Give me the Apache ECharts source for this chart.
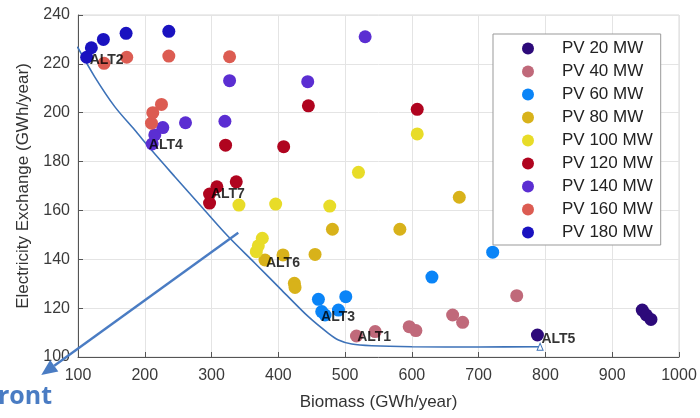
<!DOCTYPE html>
<html>
<head>
<meta charset="utf-8">
<script src="https://cdn.jsdelivr.net/npm/echarts@6/dist/echarts.min.js"></script>
<style>html,body{margin:0;padding:0;background:#fff}#c{width:700px;height:418px}</style>
</head>
<body>
<div id="c"></div>
<script>
// ---- data ----
const seriesNames = ['PV 20 MW','PV 40 MW','PV 60 MW','PV 80 MW','PV 100 MW','PV 120 MW','PV 140 MW','PV 160 MW','PV 180 MW'];
const seriesColors = ['#2d0a7a','#c0697a','#0a84f7','#d8b21a','#e8dc28','#b0041f','#5b2ed2','#dc5c52','#1a12c0'];
const pv20  = [[788,109],[945,119.2],[951,117.2],[958,115.4]];
const pv40  = [[517,108.6],[545,110.4],[596,112.4],[606,110.8],[661,117.2],[676,114.2],[757,125.1]];
const pv60  = [[460,123.6],[465,118.6],[470,117.2],[490,119.2],[501,124.7],[630,132.7],[721,142.9]];
const pv80  = [[380,139.7],[407,141.8],[424,130.2],[425,128.5],[455,142],[481,152.3],[582,152.3],[671,165.4]];
const pv100 = [[341,162.2],[367,143.1],[370,145.5],[376,148.6],[396,162.6],[477,161.8],[520,175.6],[608,191.3]];
const pv120 = [[297,163],[297,166.7],[308,169.7],[337,171.7],[321,186.7],[408,186.1],[445,202.8],[608,201.4]];
const pv140 = [[211,187.2],[215,190.9],[227,193.9],[261,195.9],[320,196.5],[327,213.1],[444,212.7],[530,231.1]];
const pv160 = [[139,220.2],[173,222.7],[236,223.2],[327,222.9],[210,195.7],[212,200],[225,203.4]];
const pv180 = [[113,222.7],[120,226.6],[138,230],[172,232.5],[236,233.3]];
const allSeries = [pv20,pv40,pv60,pv80,pv100,pv120,pv140,pv160,pv180];

const altNames = ['ALT1','ALT2','ALT3','ALT4','ALT5','ALT6','ALT7'];
const altPos = [[518,108.2],[117.5,221.6],[464,116.4],[206,186.8],[794,107.4],[381.5,138.5],[299,166.7]];

const paretoX = [99,125,155,185,210,245,285,325,365,405,445,475,490,510,540,600,700,792];
const paretoY = [227,214.7,202.5,192.9,184.7,173.8,161.5,149.3,138.4,127.4,116.5,109.7,107,105.3,104.6,104.2,104.1,104.2];

const arrowFrom = [340,150.9];
const arrowTo = [45,92.6];

const xTicks = {min:100, max:1000, interval:100};
const yTicks = {min:100, max:240, interval:20};

// ---- chart ----
const chart = echarts.init(document.getElementById('c'), null, {renderer:'canvas'});
const FONT = '"Liberation Sans", Arial, Helvetica, sans-serif';

const series = allSeries.map((d,i) => ({
  name: seriesNames[i],
  type: 'scatter',
  data: d,
  symbol: 'circle',
  symbolSize: 13,
  itemStyle: {color: seriesColors[i], opacity: 1},
  z: 3 + i*0.01
}));

const paretoData = paretoX.map((x,i) => {
  if (i === paretoX.length - 1) {
    return {value:[x, paretoY[i]], symbol:'triangle', symbolSize:[6,7],
            itemStyle:{color:'#fff', borderColor:'#3d72b8', borderWidth:1}};
  }
  return [x, paretoY[i]];
});

series.push({
  name: 'Pareto',
  type: 'line',
  data: paretoData,
  smooth: 0.3,
  symbol: 'none',
  showSymbol: true,
  lineStyle: {color:'#3d72b8', width:1.6},
  z: 2,
  silent: true
});

series.push({
  name: 'labels',
  type: 'scatter',
  data: altPos.map((p,i) => ({value:p, name:altNames[i]})),
  symbolSize: 0,
  label: {show:true, position:'right', distance:0, formatter:'{b}',
          fontFamily: FONT, fontWeight:'bold', fontSize:14, color:'#000'},
  z: 10,
  silent: true
});

chart.setOption({
  animation: false,
  backgroundColor: '#fff',
  grid: {left:78, right:21, top:15, bottom:61, show:true, borderColor:'#d8d8d8', borderWidth:1},
  xAxis: {
    type:'value', min:xTicks.min, max:xTicks.max, interval:xTicks.interval,
    name:'Biomass (GWh/year)', nameLocation:'middle', nameGap:37,
    nameTextStyle:{fontFamily:FONT, fontSize:17, color:'#333'},
    axisLine:{show:true, onZero:false, lineStyle:{color:'#555', width:1}},
    axisTick:{show:true, inside:true, length:5, lineStyle:{color:'#555'}},
    axisLabel:{fontFamily:FONT, fontSize:16, color:'#3a3a3a', margin:11, formatter: v => String(v)},
    splitLine:{show:true, lineStyle:{color:'#e4e4e4', width:1}}
  },
  yAxis: {
    type:'value', min:yTicks.min, max:yTicks.max, interval:yTicks.interval,
    name:'Electricity Exchange (GWh/year)', nameLocation:'middle', nameGap:46,
    nameTextStyle:{fontFamily:FONT, fontSize:17, color:'#333'},
    axisLine:{show:true, onZero:false, lineStyle:{color:'#555', width:1}},
    axisTick:{show:true, inside:true, length:5, lineStyle:{color:'#555'}},
    axisLabel:{fontFamily:FONT, fontSize:16, color:'#3a3a3a', margin:8, formatter: v => String(v)},
    splitLine:{show:true, lineStyle:{color:'#e4e4e4', width:1}}
  },
  legend: {
    data: seriesNames,
    orient:'vertical',
    left:493, top:34,
    padding:[6,8,4,29],
    itemWidth:58, itemHeight:12, itemGap:6,
    icon:'circle',
    borderColor:'#999', borderWidth:1,
    backgroundColor:'#fff',
    textStyle:{fontFamily:FONT, fontSize:17, color:'#222', lineHeight:16},
    selectedMode:false,
    z: 2
  },
  series: series
});

// big annotation arrow (pareto front pointer)
const p0 = chart.convertToPixel({gridIndex:0}, arrowFrom);
const p1 = chart.convertToPixel({gridIndex:0}, arrowTo);
const ang = Math.atan2(p1[1]-p0[1], p1[0]-p0[0]);
const headLen = 16, headW = 7;
const bx = p1[0] - headLen*Math.cos(ang), by = p1[1] - headLen*Math.sin(ang);
const nx = -Math.sin(ang), ny = Math.cos(ang);
chart.setOption({
  graphic: [
    {type:'line', shape:{x1:p0[0], y1:p0[1], x2:bx, y2:by},
     style:{stroke:'#4a7cc3', lineWidth:2.4}, z:20},
    {type:'polygon', shape:{points:[[p1[0],p1[1]],[bx+nx*headW,by+ny*headW],[bx-nx*headW,by-ny*headW]]},
     style:{fill:'#4a7cc3'}, z:20},
    {type:'text', right:700-52, top:384,
     style:{text:'Pareto Front', fontFamily:'"Open Sans", "Liberation Sans", sans-serif', fontWeight:'bold', fontSize:25, fill:'#4a7cc3', textAlign:'right'}, z:20}
  ]
});
</script>
</body>
</html>
